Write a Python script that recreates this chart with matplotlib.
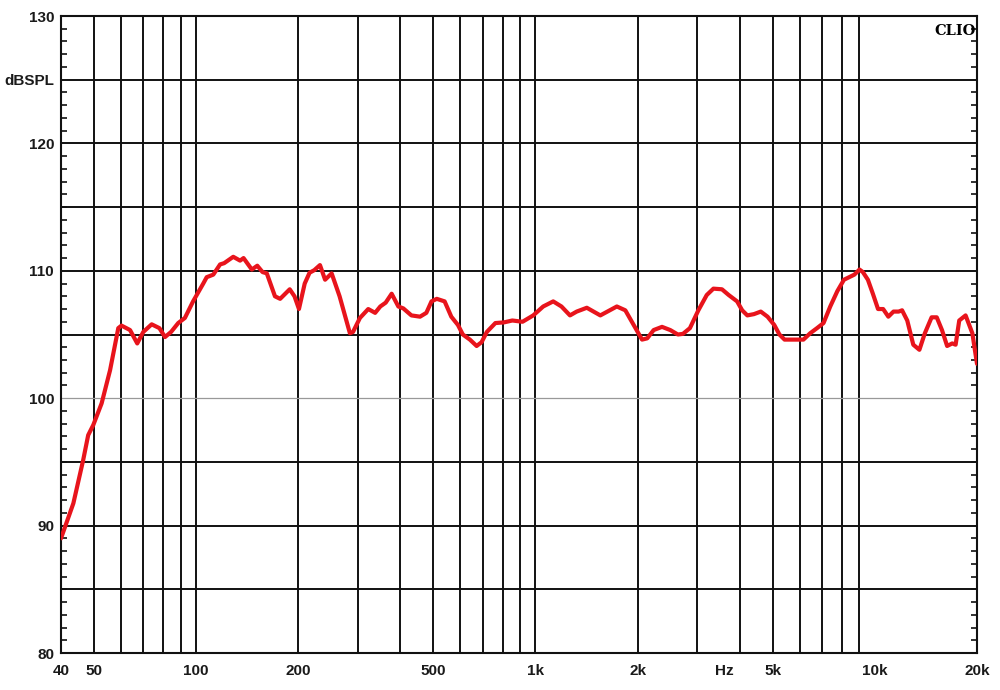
import numpy as np
import matplotlib
matplotlib.use("Agg")
import matplotlib.pyplot as plt
from matplotlib.ticker import FixedLocator, NullFormatter

# frequency response (Hz, dB SPL)
freq = [40, 43.5, 46.5, 48.1, 49.8, 52.7, 55.8, 59, 60.3, 63.9, 67.1, 69.9, 74, 78,
        81, 84.4, 88.6, 92.7, 98, 105, 107.5, 112.4, 117.7, 121, 128.7, 134.8, 138,
        146, 151.5, 157, 161.6, 170.8, 176.9, 188.8, 195, 201, 209, 216, 223, 231.8,
        240, 250.9, 264.8, 276, 284, 290, 304, 321.6, 337, 349, 362, 377, 394.5, 408,
        431, 457, 477, 494, 512, 540, 565, 591, 611, 641, 671, 694, 719, 762, 807,
        855, 916, 985, 1054, 1128, 1193, 1264, 1323, 1417, 1553, 1737, 1840, 1947,
        2061, 2135, 2230, 2360, 2496, 2628, 2720, 2852, 3020, 3197, 3345, 3544, 3710,
        3928, 4066, 4210, 4404, 4612, 4829, 5054, 5235, 5420, 5884, 6160, 6450, 6755,
        7060, 7390, 7752, 8110, 8704, 9010, 9220, 9540, 9868, 10220, 10580, 10960,
        11350, 11750, 12030, 12460, 12980, 13530, 14040, 14700, 15220, 15770, 16330,
        16910, 17300, 17730, 18510, 19380, 20000]
spl = [89.0, 91.75, 95.15, 97.1, 97.9, 99.6, 102.2, 105.5, 105.7, 105.35, 104.3, 105.2,
       105.8, 105.5, 104.8, 105.2, 105.9, 106.3, 107.6, 109.0, 109.5, 109.7, 110.5,
       110.6, 111.1, 110.8, 111.0, 110.1, 110.4, 109.9, 109.8, 108.0, 107.8, 108.55,
       108.0, 107.0, 109.0, 109.85, 110.05, 110.45, 109.3, 109.8, 108.0, 106.3, 105.1,
       105.2, 106.3, 107.0, 106.7, 107.2, 107.5, 108.2, 107.2, 107.05, 106.5, 106.4,
       106.7, 107.6, 107.8, 107.6, 106.4, 105.75, 105.0, 104.6, 104.1, 104.4, 105.2,
       105.9, 105.95, 106.1, 106.0, 106.5, 107.2, 107.6, 107.2, 106.5, 106.8, 107.1,
       106.5, 107.2, 106.9, 105.75, 104.6, 104.7, 105.35, 105.6, 105.35, 105.0, 105.05,
       105.5, 106.9, 108.1, 108.6, 108.55, 108.1, 107.6, 106.9, 106.5, 106.6, 106.8,
       106.4, 105.75, 105.0, 104.6, 104.6, 104.6, 105.1, 105.5, 105.9, 107.2, 108.4,
       109.3, 109.7, 110.1, 109.9, 109.3, 108.2, 107.0, 107.0, 106.4, 106.8, 106.8,
       106.9, 106.1, 104.2, 103.8, 105.1, 106.35, 106.35, 105.35, 104.1, 104.3, 104.2,
       106.1, 106.5, 105.1, 102.7]

x_ticks = [40, 50, 100, 200, 500, 1000, 2000, 3600, 5000, 10000, 20000]
x_labels = ["40", "50", "100", "200", "500", "1k", "2k", "Hz", "5k", "10k", "20k"]
y_ticks = [80, 90, 100, 110, 120, 125, 130]
y_labels = ["80", "90", "100", "110", "120", "dBSPL", "130"]

fig = plt.figure(figsize=(10, 6.9), dpi=100)
ax = fig.add_axes([0.061, 0.0536, 0.916, 0.9232])
ax.set_xscale("log")
ax.set_xlim(40, 20000)
ax.set_ylim(80, 130)

# grid
vgrid = [m * d for d in (10, 100, 1000) for m in range(1, 10) if 40 < m * d <= 10000]
for v in vgrid:
    ax.axvline(v, color="#111111", lw=1.4, zorder=1)
for h in range(85, 130, 5):
    if h == 100:
        ax.axhline(h, color="#999999", lw=0.9, zorder=1)
    else:
        ax.axhline(h, color="#111111", lw=1.4, zorder=1)

ax.plot(freq, spl, color="#e8141c", lw=3.0, zorder=3,
        solid_joinstyle="round", solid_capstyle="round")

ax.xaxis.set_major_locator(FixedLocator(x_ticks))
ax.set_xticklabels(x_labels)
ax.xaxis.set_minor_locator(FixedLocator([]))
ax.xaxis.set_minor_formatter(NullFormatter())
ax.set_yticks(y_ticks)
ax.set_yticklabels(y_labels)
ax.yaxis.set_minor_locator(FixedLocator(np.arange(80, 131, 1)))

ax.tick_params(axis="x", which="major", length=0, labelsize=11, pad=8)
ax.tick_params(axis="y", which="major", length=0, labelsize=11, pad=5)
ax.tick_params(axis="y", which="minor", direction="in", length=4, width=1.2,
               left=True, right=True, color="#111111")
for lab in ax.get_xticklabels() + ax.get_yticklabels():
    lab.set_fontfamily("Liberation Sans")
    lab.set_fontweight("bold")
    lab.set_color("#1a1a1a")

for s in ax.spines.values():
    s.set_color("#111111")
    s.set_linewidth(1.5)

ax.text(0.999, 0.988, "CLIO", transform=ax.transAxes, ha="right", va="top",
        fontfamily="DejaVu Serif", fontweight="bold", fontsize=10.5, color="#000000")

fig.savefig("out.png", dpi=100)
